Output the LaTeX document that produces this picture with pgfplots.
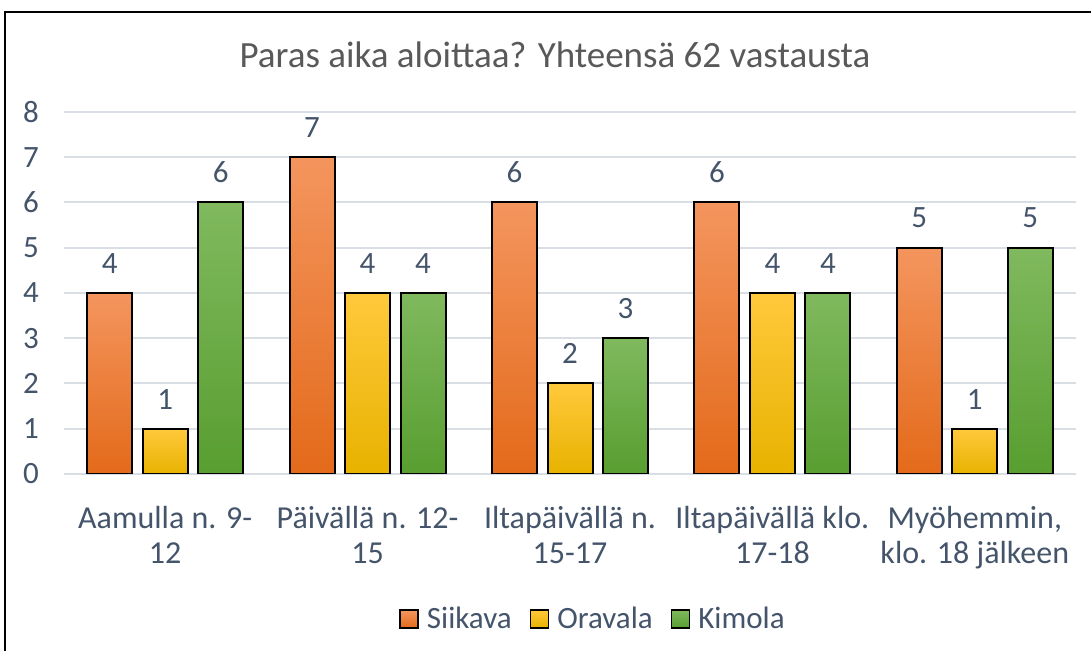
\documentclass[border=0pt]{standalone}
\usepackage{fontspec}
\setmainfont{Carlito}
\usepackage{pgfplots}
\usepackage{pgfplotstable}
\pgfplotsset{compat=1.18}
\definecolor{txt}{HTML}{44546A}
\definecolor{ttl}{HTML}{595959}
\definecolor{gridc}{HTML}{D9DDE4}
\definecolor{orT}{HTML}{F4955E}
\definecolor{orB}{HTML}{E36A1A}
\definecolor{yeT}{HTML}{FFC93C}
\definecolor{yeB}{HTML}{E8B200}
\definecolor{grT}{HTML}{80B95E}
\definecolor{grB}{HTML}{589E30}

% answers per time slot
\pgfplotstableread{
idx Siikava Oravala Kimola
0 4 1 6
1 7 4 4
2 6 2 3
3 6 4 4
4 5 1 5
}\datatable

\pgfplotsset{
  barO/.style={draw=black, line width=1pt, top color=orT, bottom color=orB},
  barY/.style={draw=black, line width=1pt, top color=yeT, bottom color=yeB},
  barG/.style={draw=black, line width=1pt, top color=grT, bottom color=grB},
}

\begin{document}
\begin{tikzpicture}
\path[use as bounding box] (0,0) rectangle (545.5pt,325.5pt);
\draw[line width=1pt] (2.5pt,0) -- (2.5pt,319.5pt) -- (545.5pt,319.5pt);
\node[font=\fontsize{18.5}{22}\selectfont, text=ttl] at (277.5pt,298pt) {Paras aika aloittaa? Yhteensä 62 vastausta};
\begin{axis}[
  at={(32pt,88.5pt)}, anchor=south west,
  scale only axis, width=506pt, height=181pt,
  xmin=-0.5, xmax=4.5, ymin=0, ymax=8,
  ytick={0,...,8},
  xtick={0,...,4},
  xticklabels={{Aamulla n. 9-\\12},{Päivällä n. 12-\\15},{Iltapäivällä n.\\15-17},{Iltapäivällä klo.\\17-18},{Myöhemmin,\\klo. 18 jälkeen}},
  xticklabel style={align=center, font=\fontsize{16}{17.5}\selectfont, text=txt, yshift=-8.5pt},
  yticklabel style={font=\fontsize{15.5}{18}\selectfont, text=txt, xshift=-9pt},
  /pgf/number format/assume math mode=true,
  axis line style={draw=none},
  major tick style={draw=none},
  ymajorgrids, grid style={gridc, line width=1pt},
  ybar, bar width=22.5pt,
  nodes near coords,
  every node near coord/.append style={font=\fontsize{15.5}{18}\selectfont, text=txt, yshift=6pt},
  legend columns=3,
  legend style={at={(265pt,-72.5pt)}, anchor=center, draw=none,
    font=\fontsize{15.5}{18}\selectfont, text=txt,
    /tikz/every odd column/.append style={column sep=2pt},
    /tikz/every even column/.append style={column sep=7pt}},
  legend image code/.code={\draw[#1, line width=0.8pt] (0pt,-4.5pt) rectangle (9pt,4.5pt);},
]
\pgfplotsinvokeforeach{0,...,4}{
  \addplot[barO, bar shift=-27.75pt, forget plot] table[x=idx, y=Siikava, restrict x to domain=#1:#1] {\datatable};
  \addplot[barY, bar shift=0pt, forget plot] table[x=idx, y=Oravala, restrict x to domain=#1:#1] {\datatable};
  \addplot[barG, bar shift=27.75pt, forget plot] table[x=idx, y=Kimola, restrict x to domain=#1:#1] {\datatable};
}
\addlegendimage{barO}\addlegendentry{Siikava}
\addlegendimage{barY}\addlegendentry{Oravala}
\addlegendimage{barG}\addlegendentry{Kimola}
\end{axis}
\end{tikzpicture}
\end{document}
